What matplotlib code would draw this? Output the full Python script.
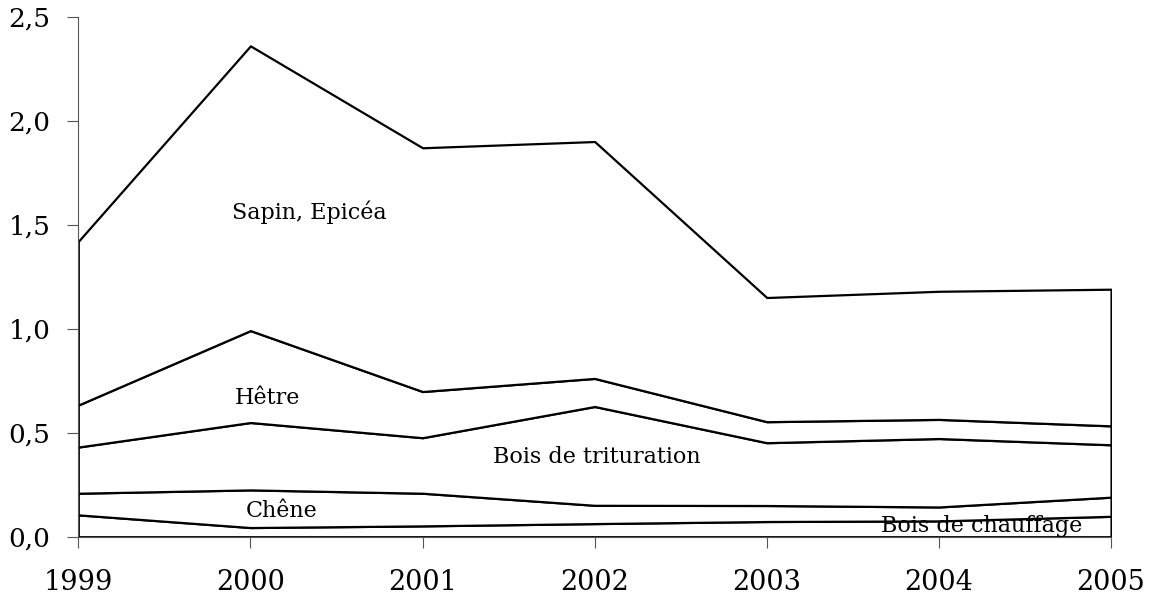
import numpy as np
import matplotlib
matplotlib.use("Agg")
import matplotlib.pyplot as plt

years = [1999, 2000, 2001, 2002, 2003, 2004, 2005]

# volumes per category, bottom to top of the stack
chauffage = [0.105, 0.044, 0.052, 0.063, 0.073, 0.076, 0.098]
chene = [0.104, 0.181, 0.157, 0.088, 0.077, 0.067, 0.092]
trituration = [0.222, 0.324, 0.267, 0.475, 0.302, 0.329, 0.252]
hetre = [0.202, 0.442, 0.222, 0.135, 0.101, 0.092, 0.091]
sapin = [0.787, 1.369, 1.172, 1.139, 0.597, 0.616, 0.657]

labels = ["Bois de chauffage", "Chêne", "Bois de trituration", "Hêtre", "Sapin, Epicéa"]
label_pos = [(2004.25, 0.05), (2000.18, 0.125), (2002.01, 0.385), (2000.1, 0.665), (2000.34, 1.56)]

yticks = [0.0, 0.5, 1.0, 1.5, 2.0, 2.5]
ytick_labels = ["0,0", "0,5", "1,0", "1,5", "2,0", "2,5"]

plt.rcParams["font.family"] = ["DejaVu Serif"]

fig = plt.figure(figsize=(11.53, 5.98), dpi=100)
ax = fig.add_axes([0.0679, 0.1025, 0.8957, 0.8695])

ax.stackplot(years, chauffage, chene, trituration, hetre, sapin,
             colors=["white"] * 5, edgecolor="black", linewidth=1.6)

for text, (x, y) in zip(labels, label_pos):
    ax.text(x, y, text, ha="center", va="center", fontsize=16, color="black")

ax.set_xlim(1999, 2005)
ax.set_ylim(0, 2.5)
ax.set_xticks(years)
ax.set_xticklabels([str(y) for y in years], fontsize=19.5)
ax.set_yticks(yticks)
ax.set_yticklabels(ytick_labels, fontsize=19)

for side in ["top", "right"]:
    ax.spines[side].set_visible(False)
for side in ["left", "bottom"]:
    ax.spines[side].set_color("#555555")
    ax.spines[side].set_linewidth(0.8)

ax.tick_params(axis="y", direction="out", length=8, width=0.8, color="#555555", pad=12)
ax.tick_params(axis="x", direction="out", length=8, width=0.8, color="#555555", pad=15)

fig.savefig("out.png", dpi=100)
